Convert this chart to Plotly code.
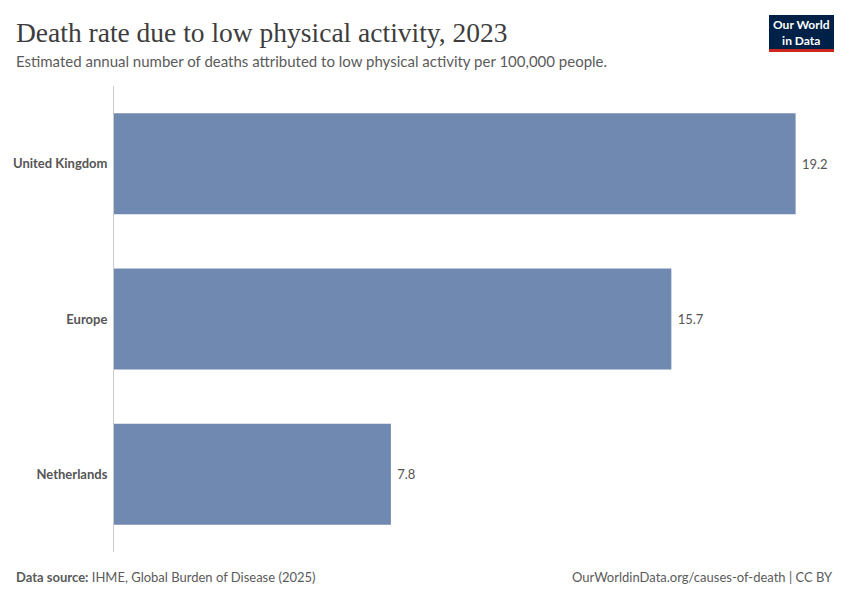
import plotly.graph_objects as go

categories = ["United Kingdom", "Europe", "Netherlands"]
values = [19.2, 15.7, 7.8]
value_labels = ["19.2", "15.7", "7.8"]

OFF = 8  # page offset of the figure in the browser
W, H = 850 - OFF, 600 - OFF
# plot area in page pixels
PL, PR, PT, PB = 114, 830, 86, 552
L, R, T, B = PL - OFF, W - (PR - OFF), PT - OFF, H - (PB - OFF)
px_per_unit = 35.5
xmax = (PR - PL) / px_per_unit


def px_x(x):
    return (x - PL) / (PR - PL)


def px_y(y):
    return 1 - (y - PT) / (PB - PT)


fig = go.Figure(go.Bar(
    x=values, y=categories, orientation="h",
    marker=dict(color="#7089b0", line=dict(width=0)),
    text=value_labels, texttemplate="\u00a0%{text}", textposition="outside", cliponaxis=False,
    textfont=dict(family="Lato", size=13, color="#555555"),
    width=0.65, hoverinfo="skip",
))

fig.update_layout(
    width=W, height=H,
    margin=dict(l=L, r=R, t=T, b=B, autoexpand=False),
    paper_bgcolor="white", plot_bgcolor="white",
    showlegend=False,
    xaxis=dict(range=[0, xmax], visible=False, fixedrange=True, automargin=False),
    yaxis=dict(autorange="reversed", showline=True, linecolor="#cccccc", linewidth=1,
               ticks="", showgrid=False, zeroline=False, automargin=False,
               tickfont=dict(family="Lato", size=13, color="#555555", weight="bold"),
               ticklabelstandoff=3),
    font=dict(family="Lato"),
)

fig.add_annotation(text="Death rate due to low physical activity, 2023",
                   xref="paper", yref="paper", x=px_x(14), y=px_y(32),
                   xanchor="left", yanchor="middle", showarrow=False,
                   font=dict(family="Liberation Serif", size=27.5, color="#3d3d3d"))

fig.add_annotation(text="Estimated annual number of deaths attributed to low physical activity per 100,000 people.",
                   xref="paper", yref="paper", x=px_x(14), y=px_y(61),
                   xanchor="left", yanchor="middle", showarrow=False,
                   font=dict(family="Lato", size=15, color="#5b5b5b"))

fig.add_annotation(text="<b>Data source:</b> IHME, Global Burden of Disease (2025)",
                   xref="paper", yref="paper", x=px_x(14), y=px_y(577),
                   xanchor="left", yanchor="middle", showarrow=False,
                   font=dict(family="Lato", size=13, color="#5b5b5b"))

fig.add_annotation(text="OurWorldinData.org/causes-of-death | CC BY",
                   xref="paper", yref="paper", x=px_x(835), y=px_y(577),
                   xanchor="right", yanchor="middle", showarrow=False,
                   font=dict(family="Lato", size=13, color="#5b5b5b"))

# logo
fig.add_shape(type="rect", xref="paper", yref="paper",
              x0=px_x(769), x1=px_x(834), y0=px_y(49), y1=px_y(15),
              fillcolor="#002147", line=dict(width=0))
fig.add_shape(type="rect", xref="paper", yref="paper",
              x0=px_x(769), x1=px_x(834), y0=px_y(52), y1=px_y(49),
              fillcolor="#ce261e", line=dict(width=0))
fig.add_annotation(text="Our World<br>in Data", xref="paper", yref="paper",
                   x=px_x(801.5), y=px_y(32), xanchor="center", yanchor="middle",
                   showarrow=False, align="center",
                   font=dict(family="Lato", size=12, color="white", weight="bold"))

fig.write_html("out.html")
